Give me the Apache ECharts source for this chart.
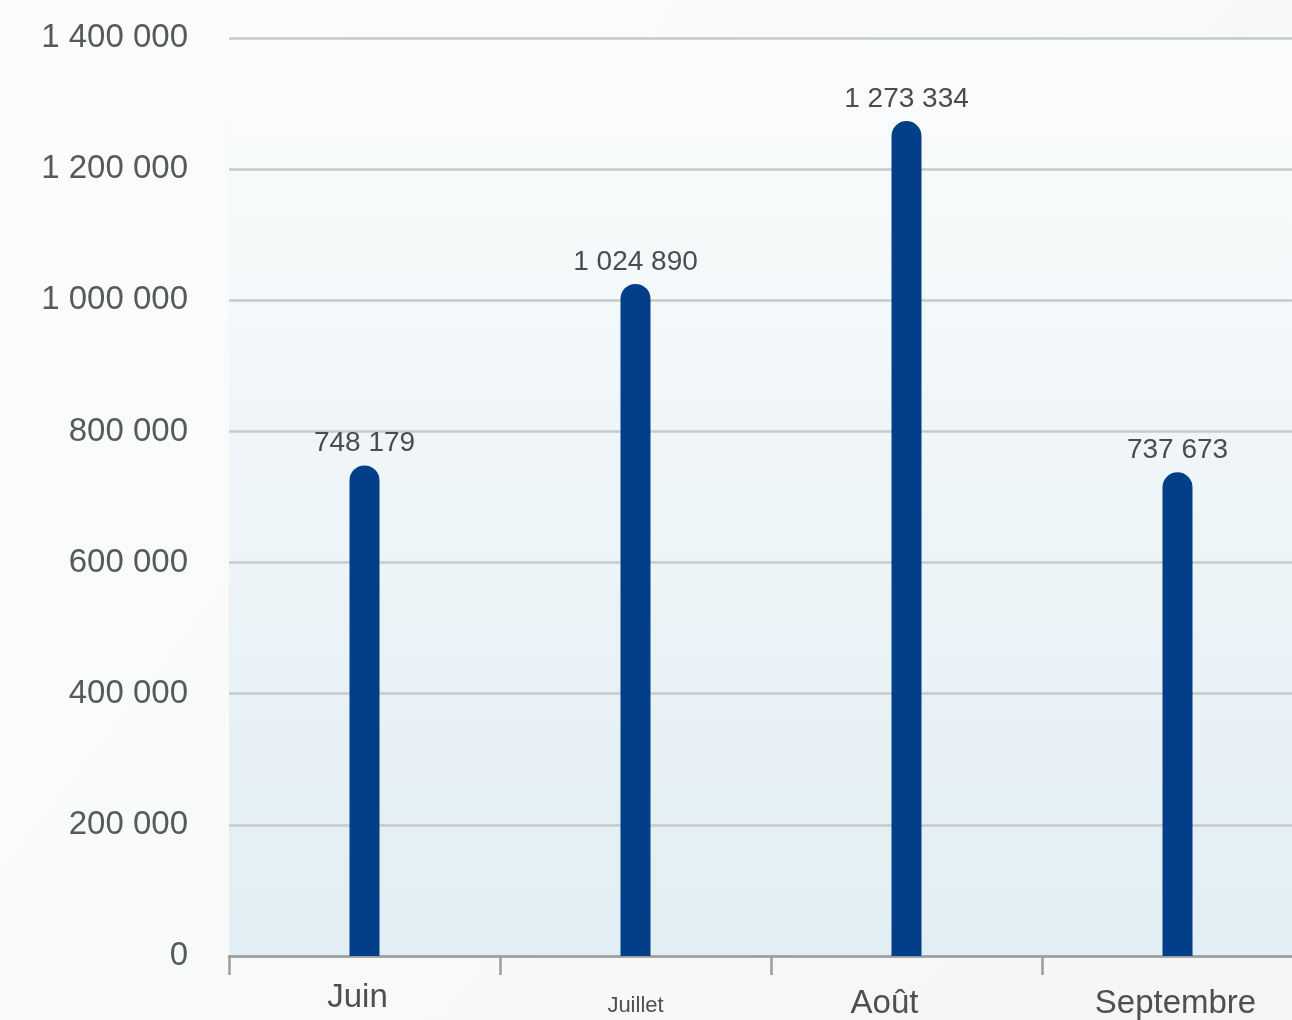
<!DOCTYPE html>
<html>
<head>
<meta charset="utf-8">
<script src="https://cdn.jsdelivr.net/npm/echarts@6/dist/echarts.min.js"></script>
<style>
html,body{margin:0;padding:0;background:#f8f9f9;overflow:hidden;width:1292px;height:1020px;}
#c{width:1313px;height:1020px;}
</style>
</head>
<body>
<div id="c"></div>
<script>
var categories = ['Juin', 'Juillet', 'Août', 'Septembre'];
var values = [748179, 1024890, 1273334, 737673];
var labelStyleKeys = ['a', 'b', 'c', 'd'];

function fmt(v) {
  return String(v).replace(/\B(?=(\d{3})+(?!\d))/g, ' ');
}

var chart = echarts.init(document.getElementById('c'), null, {renderer: 'canvas'});
chart.setOption({
  animation: false,
  backgroundColor: {
    type: 'linear', x: 0, y: 0, x2: 1, y2: 1,
    colorStops: [{offset: 0, color: '#fcfcfc'}, {offset: 1, color: '#f4f6f6'}]
  },
  textStyle: {fontFamily: 'Liberation Sans, Arial, sans-serif'},
  grid: {
    left: 229, right: 0, top: 38, bottom: 62,
    show: true, borderWidth: 0,
    backgroundColor: {
      type: 'linear', x: 0, y: 0, x2: 0, y2: 1,
      colorStops: [{offset: 0, color: '#fbfcfc'}, {offset: 1, color: '#e1eef3'}]
    }
  },
  xAxis: {
    type: 'category',
    data: categories,
    axisLine: {lineStyle: {color: '#9a9d9f', width: 2.5}},
    axisTick: {show: true, length: 19, lineStyle: {color: '#9a9d9f', width: 2.5}},
    axisLabel: {
      margin: 25,
      verticalAlign: 'top',
      color: '#4d4f52',
      fontFamily: 'Liberation Sans, Arial, sans-serif',
      formatter: function (v) {
        var i = categories.indexOf(v);
        return '{' + labelStyleKeys[i] + '|' + v + '}';
      },
      rich: {
        a: {fontSize: 33, color: '#4d4f52', padding: [0, 14, 0, 0]},
        b: {fontSize: 22, color: '#4d4f52', padding: [14, 0, 0, 0]},
        c: {fontSize: 33, color: '#4d4f52', padding: [6, 44, 0, 0]},
        d: {fontSize: 33, color: '#4d4f52', padding: [6, 4, 0, 0]}
      }
    }
  },
  yAxis: {
    type: 'value',
    min: 0, max: 1400000, interval: 200000,
    axisLine: {show: false},
    axisTick: {show: false},
    splitLine: {lineStyle: {color: '#c6cacb', width: 2.5}},
    axisLabel: {
      margin: 41,
      fontSize: 33,
      color: '#555a5e',
      fontFamily: 'Liberation Sans, Arial, sans-serif',
      formatter: function (v) { return fmt(v); }
    }
  },
  series: [{
    type: 'bar',
    data: values,
    barWidth: 30,
    itemStyle: {color: '#023f88', borderRadius: [15, 15, 0, 0]},
    label: {
      show: true,
      position: 'top',
      distance: 8,
      fontSize: 28,
      color: '#4a4c4f',
      fontFamily: 'Liberation Sans, Arial, sans-serif',
      formatter: function (p) { return fmt(p.value); }
    }
  }]
});
</script>
</body>
</html>
